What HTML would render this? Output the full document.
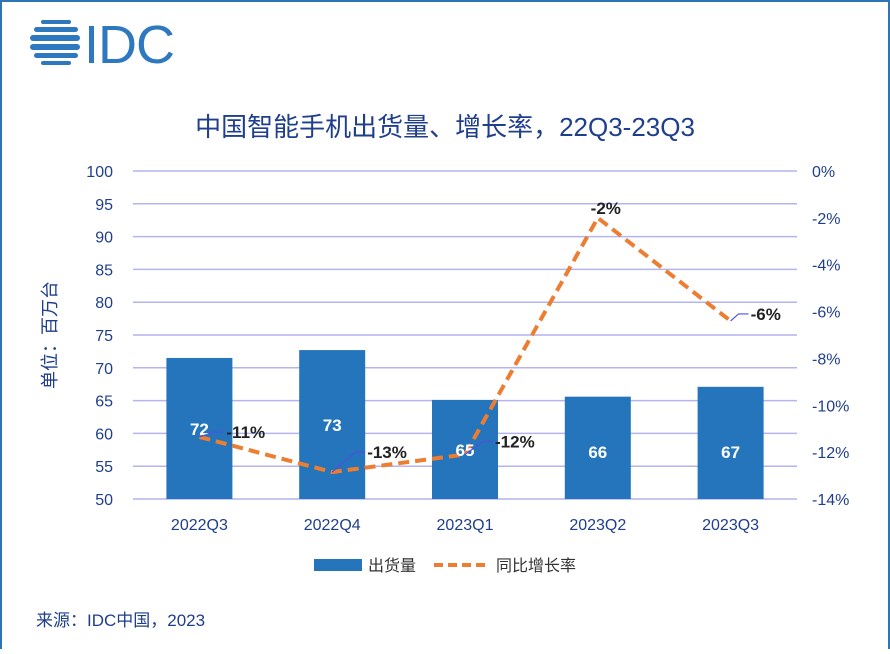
<!DOCTYPE html>
<html><head><meta charset="utf-8"><style>
body{margin:0;width:890px;height:649px;overflow:hidden;background:#fff;font-family:"Liberation Sans","Noto Sans CJK SC",sans-serif;}
</style></head><body>
<svg width="890" height="649" viewBox="0 0 890 649" xmlns="http://www.w3.org/2000/svg" font-family="Liberation Sans, Noto Sans CJK SC, sans-serif">
<rect x="1" y="1" width="888" height="660" fill="none" stroke="#2e75b6" stroke-width="2"/>
<g fill="#2e78c0">
<rect x="41" y="20" width="30" height="4" rx="2"/><rect x="34" y="27" width="44" height="5" rx="2.5"/>
<rect x="30" y="35" width="50" height="6" rx="3"/><rect x="30" y="44" width="50" height="6" rx="3"/>
<rect x="34" y="53" width="44" height="5" rx="2.5"/><rect x="41" y="61" width="30" height="4" rx="2"/>
<text x="84" y="63" font-size="54" letter-spacing="-1">IDC</text>
</g>
<text x="445" y="136" text-anchor="middle" font-size="26" fill="#1f3e8c">中国智能手机出货量、增长率，22Q3-23Q3</text>
<text transform="translate(56,335) rotate(-90)" text-anchor="middle" font-size="18" fill="#1f3e8c">单位：百万台</text>
<g id="grid"></g><g id="bars"></g><g id="line"></g><g id="labels"></g>
<g>
<rect x="314" y="559" width="48" height="12" fill="#2475bb"/>
<text x="368" y="571" font-size="16" fill="#333">出货量</text>
<line x1="434" y1="565" x2="486" y2="565" stroke="#ed7d31" stroke-width="4" stroke-dasharray="9,5"/>
<text x="496" y="571" font-size="16" fill="#333">同比增长率</text>
</g>
<text x="36" y="626" font-size="17" fill="#1f3e8c">来源：IDC中国，2023</text>
</svg>
<script>
const categories=["2022Q3","2022Q4","2023Q1","2023Q2","2023Q3"];
const shipments=[71.5,72.7,65.1,65.6,67.1];
const shipmentLabels=["72","73","65","66","67"];
const growth=[-11.35,-12.85,-12.1,-2.0,-6.4];
const growthLabels=["-11%","-13%","-12%","-2%","-6%"];
const leftTicks=[50,55,60,65,70,75,80,85,90,95,100];
const rightTicks=[0,-2,-4,-6,-8,-10,-12,-14];
const NS="http://www.w3.org/2000/svg";
const top0=171,bot=499,x0=133,x1=797;
const yL=v=>bot-(v-50)/50*(bot-top0);
const yR=v=>top0+(-v)/14*(bot-top0);
const xC=i=>x0+(x1-x0)/5*(i+0.5);
function mk(tag,attrs,parent,txt){const e=document.createElementNS(NS,tag);for(const k in attrs)e.setAttribute(k,attrs[k]);if(txt!==undefined)e.textContent=txt;document.getElementById(parent).appendChild(e);return e;}
leftTicks.forEach(t=>{const y=yL(t);
const l=mk('line',{x1:x0,x2:x1,y1:y,y2:y,stroke:'#b4b4f0','stroke-width':1.5},'grid');


const tx=mk('text',{x:113,y:y+6,'text-anchor':'end','font-size':16,fill:'#1f3e8c'},'grid',String(t));

});
rightTicks.forEach(t=>{const y=yR(t);
const tx=mk('text',{x:812,y:y+6,'font-size':16,fill:'#1f3e8c'},'grid',t+'%');

});
categories.forEach((c,i)=>{const cx=xC(i);
const b=mk('rect',{x:cx-33,y:yL(shipments[i]),width:66,height:bot-yL(shipments[i]),fill:'#2475bb'},'bars');


const bl=mk('text',{x:cx,y:458,'text-anchor':'middle','font-size':17,'font-weight':'bold',fill:'#fff'},'labels',shipmentLabels[i]);


if(i===1)bl.setAttribute('y',431);
if(i===0)bl.setAttribute('y',435);
if(i===2)bl.setAttribute('y',456);
const xl=mk('text',{x:cx,y:530,'text-anchor':'middle','font-size':16,fill:'#1f3e8c'},'labels',c);

});
const pts=growth.map((g,i)=>xC(i)+','+yR(g)).join(' ');
const pl=mk('polyline',{points:pts,fill:'none',stroke:'#ed7d31','stroke-width':4,'stroke-dasharray':'11,6'},'line');


const off=[[27,-5],[35,-20],[30,-13],[8,-10],[20,-7]];
growth.forEach((g,i)=>{const x=xC(i)+off[i][0],y=yR(g)+off[i][1];
if(i!==3){const ld=mk('polyline',{points:xC(i)+','+yR(g)+' '+(x-12)+','+y+' '+(x-2)+','+y,fill:'none',stroke:'#5050e0','stroke-width':1.2},'labels');

}
const t=mk('text',{x:x,y:y+6,'font-size':17,'font-weight':'bold',fill:'#222','text-anchor':i===3?'middle':'start'},'labels',growthLabels[i]);

});
</script>
</body></html>
